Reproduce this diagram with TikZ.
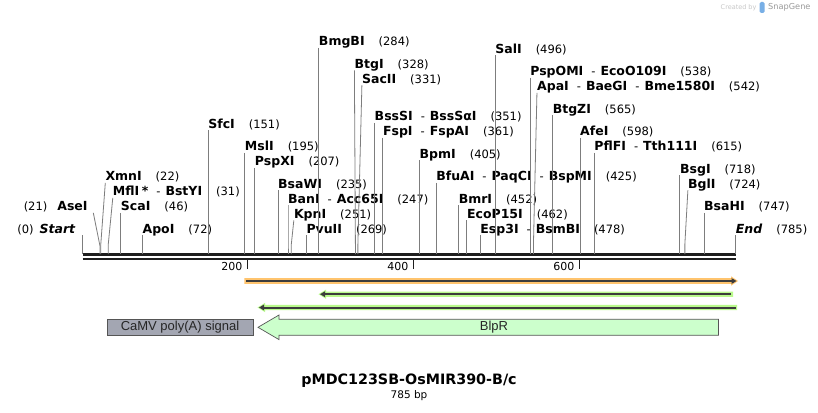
\documentclass[tikz,border=0pt]{standalone}
\usepackage{fontspec}
\setmainfont{DejaVu Sans}
\newfontfamily\featfont{Liberation Sans}
\usetikzlibrary{arrows.meta}
\definecolor{siteg}{RGB}{125,125,125}
\definecolor{mapk}{RGB}{30,30,30}
\definecolor{orangeband}{RGB}{255,196,110}
\definecolor{greenband}{RGB}{185,250,140}
\definecolor{darkl}{RGB}{60,60,60}
\definecolor{camv}{RGB}{163,166,178}
\definecolor{blpr}{RGB}{204,255,204}
\definecolor{featedge}{RGB}{85,85,85}
\definecolor{sgray}{RGB}{200,200,200}
\definecolor{sblue}{RGB}{120,175,230}

\newcommand\bpx[1]{82.5+0.832*#1}
% #1 id, #2 bp, #3 label x offset, #4 row y, #5 text
\newcommand\mksite[5]{%
  \coordinate (s#1) at ({\bpx{#2}},254);
  \node[lbl] (l#1) at ({\bpx{#2}+#3},#4) {#5};
  \draw[siteline] ([yshift=-6.3pt]l#1.west) -- ({\bpx{#2}},244) -- (s#1);
}
\newcommand\nm[1]{{\fontsize{12.5}{14}\selectfont\bfseries #1}}
\newcommand\gp{\hspace{14pt}}
\newcommand\dsh{\hspace{8pt}-\hspace{5pt}}

\begin{document}
\begin{tikzpicture}[x=1pt,y=-1pt,
  lbl/.style={anchor=west,inner sep=0pt,text height=9.5pt,text depth=1.5pt,
    font=\fontsize{11.5}{13}\selectfont},
  siteline/.style={siteg,line width=0.8pt},
  mapline/.style={mapk,line width=2.4pt},
  tickmark/.style={mapk,line width=1.6pt},
  ticklbl/.style={anchor=east,inner sep=0pt,font=\fontsize{11}{12}\selectfont},
  featlbl/.style={inner sep=0pt,font=\featfont\fontsize{13}{15}\selectfont,text=black!85}
]
\fill[white] (0,0) rectangle (818,412);
\useasboundingbox (0,0) rectangle (818,412);

% watermark
\node[anchor=west,inner sep=0pt,text=sgray,font=\fontsize{6.5}{8}\selectfont] (cb) at (720.5,7.3) {Created by};
\fill[sblue,rounded corners=1.5pt] (759.5,2) rectangle (764.5,13);
\node[anchor=west,inner sep=0pt,text=black!40,font=\fontsize{8.2}{10}\selectfont] (sg) at (768,7.3) {SnapGene};

% map line (two strands)
\coordinate (mapL) at (82.5,254.5);
\coordinate (mapR) at (736,254.5);
\draw[mapline] (mapL) -- (mapR);
\draw[mapline] ([yshift=-4.4pt]mapL) -- ([yshift=-4.4pt]mapR);

% ticks
\foreach \tx/\tl in {247.5/200,413.5/400,579.5/600}{
  \draw[tickmark] (\tx,260) -- (\tx,268.5);
  \node[ticklbl] at (\tx-5,266.5) {\tl};
}

% start / AseI (label on the left)
\coordinate (sstart) at ({\bpx{0}},254);
\node[lbl,anchor=east] (lstart) at (75.8,229) {(0)\hspace{6pt}\nm{\textit{Start}}};
\draw[siteline] ({\bpx{0}},235) -- (sstart);
\coordinate (sase) at ({\bpx{21}},254);
\node[lbl,anchor=east] (lase) at (87.8,206.5) {(21)\hspace{10pt}\nm{AseI}};
\draw[siteline] ([xshift=5.5pt,yshift=-6.3pt]lase.east) -- ({\bpx{21}},246) -- (sase);

\mksite{xmn}{22}{4.5}{176.5}{\nm{XmnI}\gp(22)}
\mksite{mfl}{31}{4.5}{191.5}{\nm{MflI\hspace{2.5pt}*}\dsh\nm{BstYI}\gp(31)}
\mksite{sca}{46}{0}{206.5}{\nm{ScaI}\gp(46)}
\mksite{apo}{72}{0}{229}{\nm{ApoI}\gp(72)}
\mksite{sfc}{151}{0}{124}{\nm{SfcI}\gp(151)}
\mksite{msl}{195}{0}{146.5}{\nm{MslI}\gp(195)}
\mksite{psx}{207}{0}{161.5}{\nm{PspXI}\gp(207)}
\mksite{bsw}{235}{0}{184}{\nm{BsaWI}\gp(235)}
\mksite{ban}{247}{0}{199}{\nm{BanI}\dsh\nm{Acc65I}\gp(247)}
\mksite{kpn}{251}{2.5}{214}{\nm{KpnI}\gp(251)}
\mksite{pvu}{269}{0}{229}{\nm{PvuII}\gp(269)}
\mksite{bmg}{284}{0}{41.5}{\nm{BmgBI}\gp(284)}
\mksite{btg}{328}{-1}{64}{\nm{BtgI}\gp(328)}
\mksite{sac}{331}{4}{79}{\nm{SacII}\gp(331)}
\mksite{bss}{351}{0}{116.5}{\nm{BssSI}\dsh\nm{BssSαI}\gp(351)}
\mksite{fsp}{361}{0}{131.5}{\nm{FspI}\dsh\nm{FspAI}\gp(361)}
\mksite{bpm}{405}{0}{154}{\nm{BpmI}\gp(405)}
\mksite{bfu}{425}{0}{176.5}{\nm{BfuAI}\dsh\nm{PaqCI}\dsh\nm{BspMI}\gp(425)}
\mksite{bmr}{452}{0}{199}{\nm{BmrI}\gp(452)}
\mksite{eco}{462}{0}{214}{\nm{EcoP15I}\gp(462)}
\mksite{esp}{478}{0}{229}{\nm{Esp3I}\dsh\nm{BsmBI}\gp(478)}
\mksite{sal}{496}{0}{49}{\nm{SalI}\gp(496)}
\mksite{pspo}{538}{0}{71.5}{\nm{PspOMI}\dsh\nm{EcoO109I}\gp(538)}
\mksite{apa}{542}{3.5}{86.5}{\nm{ApaI}\dsh\nm{BaeGI}\dsh\nm{Bme1580I}\gp(542)}
\mksite{btgz}{565}{0}{109}{\nm{BtgZI}\gp(565)}
\mksite{afe}{598}{0}{131.5}{\nm{AfeI}\gp(598)}
\mksite{pfl}{615}{0}{146.5}{\nm{PflFI}\dsh\nm{Tth111I}\gp(615)}
\mksite{bsg}{718}{0}{169}{\nm{BsgI}\gp(718)}
\mksite{bgl}{724}{3}{184}{\nm{BglI}\gp(724)}
\mksite{bsah}{747}{0}{206.5}{\nm{BsaHI}\gp(747)}
\mksite{end}{785}{0}{229}{\nm{\textit{End}}\gp(785)}

% primer-like arrows
\fill[orangeband] (244.4,278.1) -- (731,278.1) -- (731,276.3) -- (738,281) -- (731,285.7) -- (731,283.9) -- (244.4,283.9) -- cycle;
\draw[darkl,line width=2pt,-{Triangle[length=5pt,width=5.5pt]}] (246,281) -- (736.5,281);

\fill[greenband] (733,291.5) -- (326,291.5) -- (326,289.6) -- (318.5,294.2) -- (326,298.8) -- (326,296.9) -- (733,296.9) -- cycle;
\draw[darkl,line width=2pt,-{Triangle[length=5pt,width=5.5pt]}] (731,294.2) -- (320,294.2);

\fill[greenband] (737,304.8) -- (265,304.8) -- (265,302.9) -- (257.5,307.5) -- (265,312.1) -- (265,310.2) -- (737,310.2) -- cycle;
\draw[darkl,line width=2pt,-{Triangle[length=5pt,width=5.5pt]}] (735.5,307.5) -- (259,307.5);

% features
\draw[featedge,line width=0.7pt,fill=camv] (107,319) rectangle (253,335.5);
\node[featlbl] (camvl) at (180,327.3) {CaMV poly(A) signal};
\draw[featedge,line width=0.7pt,fill=blpr] (258,327.3) -- (279,315) -- (279,319.3) -- (718.5,319.3) -- (718.5,335.3) -- (279,335.3) -- (279,339.6) -- cycle;
\node[featlbl] (blprl) at (494,327.3) {BlpR};

% title
\node[inner sep=0pt,font=\bfseries\fontsize{14.3}{16}\selectfont] (title) at (409,380.7) {pMDC123SB-OsMIR390-B/c};
\node[inner sep=0pt,font=\fontsize{10.5}{12}\selectfont] (bp) at (409,395.7) {785 bp};
\end{tikzpicture}
\end{document}
